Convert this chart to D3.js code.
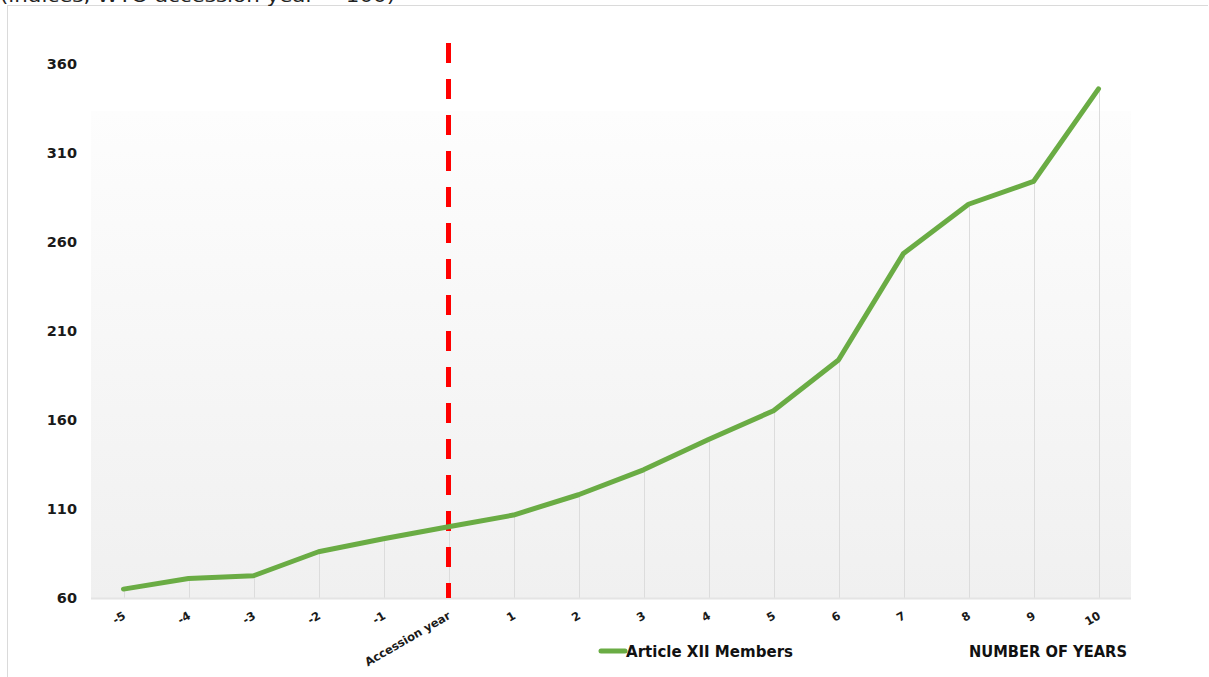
<!DOCTYPE html>
<html>
<head>
<meta charset="utf-8">
<script src="https://cdn.jsdelivr.net/npm/d3@7"></script>
<style>
  html, body { margin: 0; padding: 0; background: #ffffff; }
  svg { display: block; font-family: "DejaVu Sans", Verdana, sans-serif; }
</style>
</head>
<body>
<svg id="chart" width="1209" height="677"></svg>
<script>
// Years relative to WTO accession
const categories = ["-5", "-4", "-3", "-2", "-1", "Accession year",
  "1", "2", "3", "4", "5", "6", "7", "8", "9", "10"];
// Index values (accession year = 100)
const memberValues = [65, 71, 72.5, 86, 93.3, 100, 106.6, 118, 132, 149, 165.2, 193.7, 253.6, 281.2, 294, 346];
const yTicks = [60, 110, 160, 210, 260, 310, 360];
const seriesName = "Article XII Members";
const accessionCategory = "Accession year";
const subtitle = "(indices, WTO accession year = 100)";
const xAxisTitle = "NUMBER OF YEARS";

const svg = d3.select("#chart");
const W = 1209, H = 677;
const plot = { left: 91, right: 1131, top: 111, bottom: 598 };

const x = d3.scaleBand().domain(categories).range([plot.left, plot.right]).padding(0);
const y = d3.scaleLinear().domain([60, 360]).range([plot.bottom, 64]);
const cx = d => x(d) + x.bandwidth() / 2;

// Background gradient of the plot area
const defs = svg.append("defs");
const grad = defs.append("linearGradient").attr("id", "plotBg")
  .attr("x1", 0).attr("y1", 0).attr("x2", 0).attr("y2", 1);
grad.append("stop").attr("offset", "0%").attr("stop-color", "#fdfdfd");
grad.append("stop").attr("offset", "100%").attr("stop-color", "#f0f0f0");

// Outer frame (top and left edges)
svg.append("line").attr("x1", 7).attr("x2", 1208).attr("y1", 5.5).attr("y2", 5.5)
  .attr("stroke", "#dadada").attr("stroke-width", 1);
svg.append("line").attr("x1", 7.5).attr("x2", 7.5).attr("y1", 5).attr("y2", H)
  .attr("stroke", "#dadada").attr("stroke-width", 1);

// Subtitle, running off the top of the page
svg.append("text").attr("x", 0).attr("y", 1.5)
  .attr("font-size", 17).attr("fill", "#222")
  .attr("textLength", 395).attr("lengthAdjust", "spacingAndGlyphs")
  .text(subtitle);

svg.append("rect")
  .attr("x", plot.left).attr("y", plot.top)
  .attr("width", plot.right - plot.left).attr("height", plot.bottom - plot.top)
  .attr("fill", "url(#plotBg)");

// Drop lines from each point to the axis
svg.append("g").selectAll("line")
  .data(categories)
  .join("line")
  .attr("x1", d => Math.round(cx(d)) + 0.5).attr("x2", d => Math.round(cx(d)) + 0.5)
  .attr("y1", (d, i) => y(memberValues[i]))
  .attr("y2", plot.bottom)
  .attr("stroke", "#dcdcdc").attr("stroke-width", 1);

// Baseline axis
svg.append("line").attr("x1", plot.left).attr("x2", plot.right)
  .attr("y1", plot.bottom + 0.5).attr("y2", plot.bottom + 0.5)
  .attr("stroke", "#e4e4e4").attr("stroke-width", 2);

// Y axis labels
const yAxis = d3.axisLeft(y).tickValues(yTicks).tickSize(0).tickPadding(0);
const gy = svg.append("g").attr("transform", "translate(77,0)").call(yAxis);
gy.select(".domain").remove();
gy.selectAll("text")
  .attr("font-family", "DejaVu Sans, Verdana, sans-serif")
  .attr("font-size", 14.5).attr("font-weight", "bold").attr("fill", "#1a1a1a");

// X axis labels, rotated
const xAxis = d3.axisBottom(x).tickSize(0).tickPadding(0);
const gx = svg.append("g").attr("transform", `translate(0,${plot.bottom})`).call(xAxis);
gx.select(".domain").remove();
gx.selectAll(".tick text")
  .attr("font-family", "DejaVu Sans, Verdana, sans-serif")
  .attr("font-size", 11.5).attr("font-weight", "bold").attr("fill", "#1a1a1a")
  .attr("text-anchor", "end")
  .attr("dy", null)
  .attr("y", 0)
  .attr("transform", "translate(3,20) rotate(-30)");

// Accession year marker
svg.append("line")
  .attr("x1", cx(accessionCategory)).attr("x2", cx(accessionCategory))
  .attr("y1", 43).attr("y2", plot.bottom)
  .attr("stroke", "#ff0000").attr("stroke-width", 5)
  .attr("stroke-dasharray", "20,16");

// Series line
const line = d3.line()
  .x((d, i) => cx(categories[i]))
  .y(d => y(d));
svg.append("path")
  .datum(memberValues)
  .attr("d", line)
  .attr("fill", "none")
  .attr("stroke", "#6aac44")
  .attr("stroke-width", 5)
  .attr("stroke-linejoin", "round")
  .attr("stroke-linecap", "round");

// Legend
svg.append("line").attr("x1", 601).attr("x2", 625).attr("y1", 651).attr("y2", 651)
  .attr("stroke", "#6aac44").attr("stroke-width", 5).attr("stroke-linecap", "round");
svg.append("text").attr("x", 626).attr("y", 656.5)
  .attr("font-size", 15).attr("font-weight", "bold").attr("fill", "#111")
  .attr("textLength", 167).attr("lengthAdjust", "spacingAndGlyphs")
  .text(seriesName);
svg.append("text").attr("x", 969).attr("y", 656.5)
  .attr("font-size", 15).attr("font-weight", "bold").attr("fill", "#111")
  .attr("textLength", 158).attr("lengthAdjust", "spacingAndGlyphs")
  .text(xAxisTitle);
</script>
</body>
</html>
